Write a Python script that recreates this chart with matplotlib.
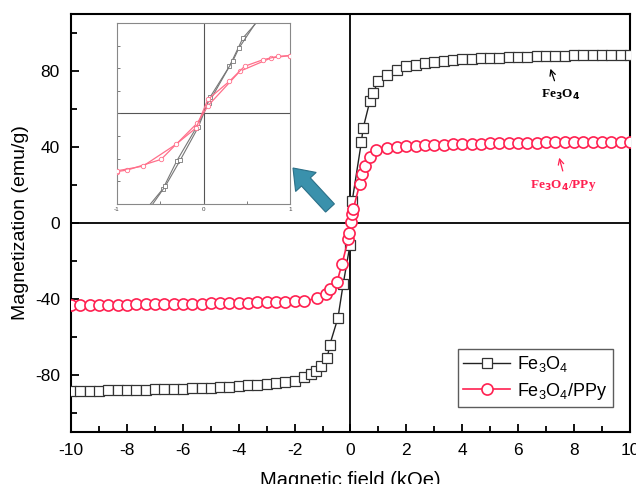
import matplotlib
matplotlib.use("Agg")
import matplotlib.pyplot as plt
from matplotlib.patches import FancyArrow
from matplotlib.transforms import IdentityTransform
from matplotlib.ticker import MultipleLocator

plt.rcParams.update(
    {
        "font.family": "Liberation Sans",
        "mathtext.fontset": "custom",
        "mathtext.rm": "Liberation Sans",
        "mathtext.it": "Liberation Sans:italic",
        "xtick.direction": "in",
        "ytick.direction": "in",
        "axes.unicode_minus": False,
    }
)

# hysteresis data, field in kOe, magnetization in emu/g
fe_field = [-10.0, -9.67, -9.33, -9.0, -8.67, -8.33, -8.0, -7.67, -7.33, -7.0,
            -6.67, -6.33, -6.0, -5.67, -5.33, -5.0, -4.67, -4.33, -4.0, -3.67,
            -3.33, -3.0, -2.67, -2.33, -2.0, -1.67, -1.43, -1.22, -1.05, -0.83,
            -0.74, -0.45, -0.26, -0.02, 0.06, 0.39, 0.45, 0.69, 0.81, 0.99,
            1.29, 1.65, 2.0, 2.33, 2.67, 3.0, 3.33, 3.67, 4.0, 4.33,
            4.67, 5.0, 5.33, 5.67, 6.0, 6.33, 6.67, 7.0, 7.33, 7.67,
            8.0, 8.33, 8.67, 9.0, 9.33, 9.67, 10.0]
fe_mag = [-88.5, -88.4, -88.3, -88.2, -88.1, -88.0, -87.9, -87.8, -87.7, -87.6,
          -87.4, -87.3, -87.1, -87.0, -86.8, -86.6, -86.4, -86.1, -85.9, -85.5,
          -85.1, -84.8, -84.3, -83.8, -83.0, -81.0, -79.6, -77.9, -75.3, -70.9,
          -64.0, -50.0, -32.0, -11.7, 11.6, 42.7, 49.8, 64.0, 68.4, 74.7,
          78.0, 80.8, 82.4, 83.4, 84.2, 84.8, 85.3, 85.7, 86.1, 86.4,
          86.7, 86.9, 87.1, 87.3, 87.5, 87.6, 87.8, 87.9, 88.0, 88.1,
          88.2, 88.3, 88.4, 88.5, 88.6, 88.6, 88.7]

ppy_field = [-10.0, -9.67, -9.33, -9.0, -8.67, -8.33, -8.0, -7.67, -7.33, -7.0,
             -6.67, -6.33, -6.0, -5.67, -5.33, -5.0, -4.67, -4.33, -4.0, -3.67,
             -3.33, -3.0, -2.67, -2.33, -2.0, -1.67, -1.19, -0.89, -0.74, -0.48,
             -0.30, -0.08, -0.04, 0.02, 0.05, 0.10, 0.33, 0.42, 0.51, 0.69,
             0.93, 1.29, 1.67, 2.0, 2.33, 2.67, 3.0, 3.33, 3.67, 4.0,
             4.33, 4.67, 5.0, 5.33, 5.67, 6.0, 6.33, 6.67, 7.0, 7.33,
             7.67, 8.0, 8.33, 8.67, 9.0, 9.33, 9.67, 10.0]
ppy_mag = [-43.2, -43.1, -43.1, -43.0, -43.0, -42.9, -42.9, -42.8, -42.8, -42.7,
           -42.7, -42.6, -42.6, -42.5, -42.4, -42.3, -42.2, -42.1, -42.0, -41.9,
           -41.8, -41.7, -41.6, -41.5, -41.3, -41.0, -39.6, -37.5, -34.9, -30.8,
           -21.4, -8.5, -5.0, 0.5, 4.5, 7.4, 20.5, 25.6, 30.0, 34.7,
           38.3, 39.5, 40.0, 40.3, 40.6, 40.9, 41.1, 41.3, 41.4, 41.6,
           41.7, 41.8, 41.9, 42.0, 42.1, 42.2, 42.2, 42.3, 42.4, 42.4,
           42.5, 42.5, 42.6, 42.6, 42.7, 42.7, 42.8, 42.8]

# low-field loops for the inset (two branches each)
ins_fe_field_a = [-0.70, -0.47, -0.31, -0.085, 0.06, 0.30, 0.455, 0.70]
ins_fe_mag_a = [-66.0, -50.0, -31.5, -9.5, 7.0, 31.3, 50.0, 66.0]
ins_fe_field_b = [-0.66, -0.44, -0.27, -0.06, 0.08, 0.34, 0.41, 0.66]
ins_fe_mag_b = [-66.0, -48.0, -31.0, -9.0, 11.2, 35.0, 43.4, 65.0]
ins_ppy_field_a = [-1.0, -0.88, -0.49, -0.07, 0.05, 0.42, 0.78, 1.0]
ins_ppy_mag_a = [-38.5, -37.5, -30.4, -6.2, 5.0, 28.0, 36.8, 38.4]
ins_ppy_field_b = [-1.0, -0.70, -0.32, -0.085, 0.05, 0.30, 0.475, 0.69, 0.86, 1.0]
ins_ppy_mag_b = [-38.0, -34.9, -20.5, -9.5, 9.3, 21.4, 31.3, 35.7, 37.9, 38.4]

black = "#222222"
red = "#FF2050"

fig = plt.figure(figsize=(6.36, 4.84), dpi=100)
ax = fig.add_axes([0.1116, 0.1074, 0.879, 0.8636])

ax.axhline(0, color="black", lw=1.3, zorder=1)
ax.axvline(0, color="black", lw=1.3, zorder=1)

ax.plot(fe_field, fe_mag, color=black, lw=1.0, marker="s", ms=6.5,
        mfc="white", mec="#333333", mew=0.9, label=r"Fe$_3$O$_4$", zorder=3)
ax.plot(ppy_field, ppy_mag, color=red, lw=1.2, marker="o", ms=8,
        mfc="white", mec=red, mew=1.2, label=r"Fe$_3$O$_4$/PPy", zorder=4)

ax.set_xlim(-10, 10)
ax.set_ylim(-110, 110)
ax.xaxis.set_major_locator(MultipleLocator(2))
ax.xaxis.set_minor_locator(MultipleLocator(1))
ax.yaxis.set_major_locator(MultipleLocator(40))
ax.yaxis.set_minor_locator(MultipleLocator(20))
ax.tick_params(which="major", length=6, width=1.3, labelsize=12.5, pad=8)
ax.tick_params(which="minor", length=4, width=1.3)
for sp in ax.spines.values():
    sp.set_linewidth(1.5)

ax.set_xlabel("Magnetic field (kOe)", fontsize=14.5, labelpad=9)
ax.set_ylabel("Magnetization (emu/g)", fontsize=14, labelpad=4)

leg = ax.legend(loc="lower right", bbox_to_anchor=(0.97, 0.06), fontsize=13,
                frameon=True, fancybox=False, edgecolor="#333333",
                handlelength=2.6, borderpad=0.3, labelspacing=0.35,
                handletextpad=0.4, borderaxespad=0)
leg.get_frame().set_linewidth(1.0)

# curve labels with small pointer arrows
serif = "Liberation Serif"
ax.annotate("", xy=(7.12, 82.6), xytext=(7.33, 73.5),
            arrowprops=dict(arrowstyle="->", color="black", lw=0.9))
ax.text(7.51, 67.5, r"Fe$_\mathbf{3}$O$_\mathbf{4}$", family=serif, fontsize=9.5,
        fontweight="bold", ha="center", va="center", color="black")
ax.annotate("", xy=(7.44, 35.8), xytext=(7.62, 26.0),
            arrowprops=dict(arrowstyle="->", color=red, lw=0.9))
ax.text(7.62, 19.5, r"Fe$_\mathbf{3}$O$_\mathbf{4}$/PPy", family=serif, fontsize=9.5,
        fontweight="bold", ha="center", va="center", color=red)

# inset: low-field region
ins = fig.add_axes([0.184, 0.5785, 0.272, 0.374])
ins.axhline(0, color="#555555", lw=0.8, zorder=1)
ins.axvline(0, color="#555555", lw=0.8, zorder=1)
for h, m in [(ins_fe_field_a, ins_fe_mag_a), (ins_fe_field_b, ins_fe_mag_b)]:
    ins.plot(h, m, color="#777777", lw=0.8, marker="s", ms=3, mfc="white",
             mec="#777777", mew=0.6, zorder=2)
for h, m in [(ins_ppy_field_a, ins_ppy_mag_a), (ins_ppy_field_b, ins_ppy_mag_b)]:
    ins.plot(h, m, color="#FF6F8A", lw=0.9, marker="o", ms=3.2, mfc="white",
             mec="#FF6F8A", mew=0.6, zorder=3)
ins.set_xlim(-1, 1)
ins.set_ylim(-60, 60)
ins.set_xticks([-1, -0.5, 0, 0.5, 1])
ins.set_xticklabels(["-1", "", "0", "", "1"])
ins.yaxis.set_major_locator(MultipleLocator(15))
ins.set_yticklabels([])
ins.tick_params(length=2, width=0.6, labelsize=4.5, pad=2, colors="#666666",
                labelcolor="#444444")
for sp in ins.spines.values():
    sp.set_linewidth(0.8)
    sp.set_edgecolor("#888888")

# block arrow pointing to the inset
fig.patches.append(
    FancyArrow(330, 276, -37, 40, width=12, head_width=28, head_length=19,
               length_includes_head=True, facecolor="#3A91AC",
               edgecolor="#2B7088", lw=0.8, transform=IdentityTransform(),
               figure=fig)
)

fig.savefig("out.png", dpi=100)
